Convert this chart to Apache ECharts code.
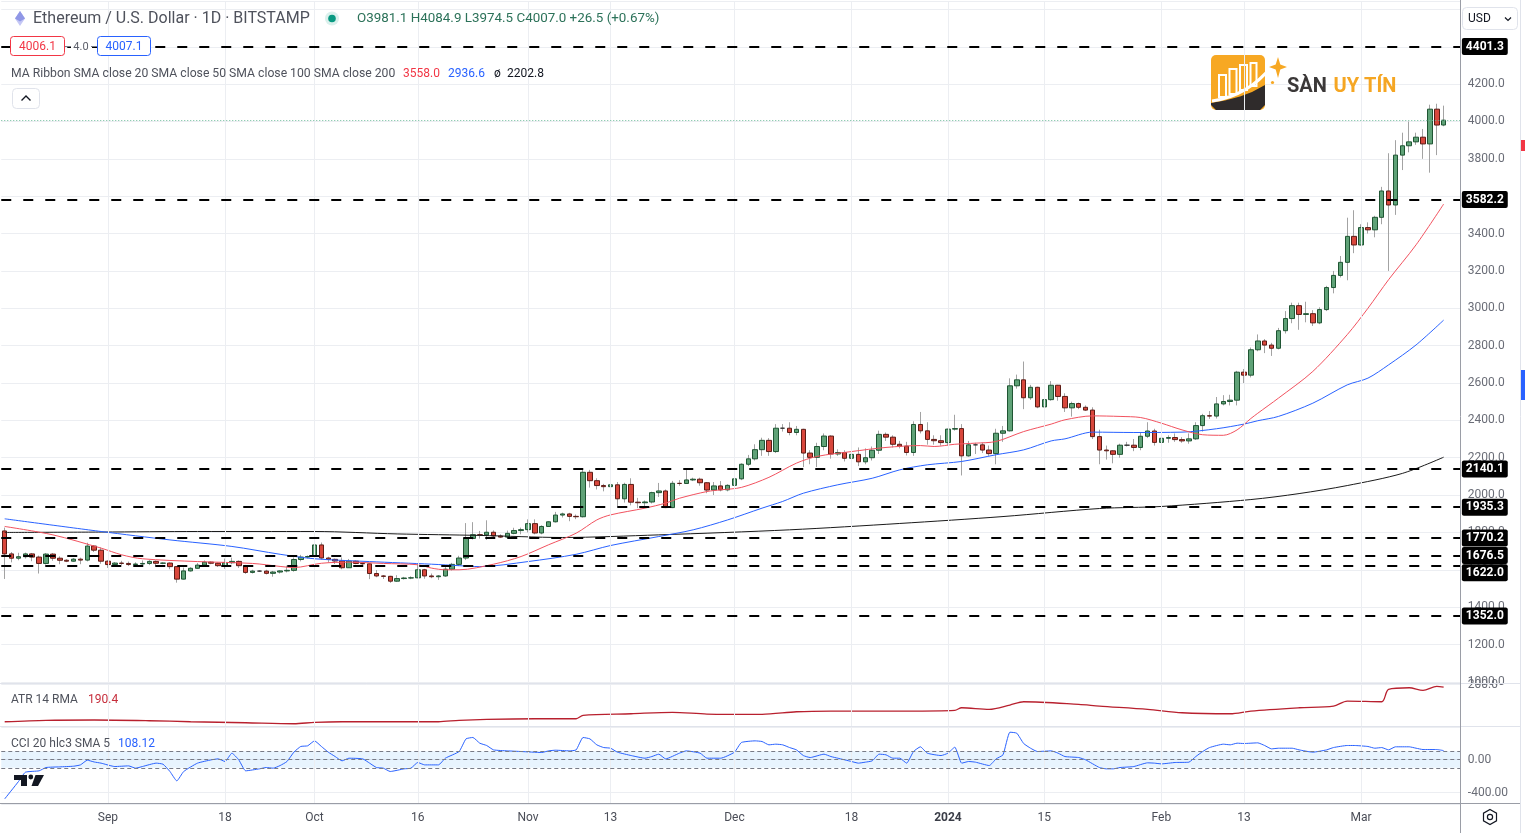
<!DOCTYPE html>
<html><head><meta charset="utf-8"><title>ETHUSD 1D</title>
<script src="https://cdn.jsdelivr.net/npm/echarts@6.0.0/dist/echarts.min.js"></script>
<style>html,body{margin:0;padding:0;background:#fff;overflow:hidden}#chart{width:1525px;height:833px}</style>
</head><body><div id="chart"></div>
<script>
// ---------------- DATA ----------------
// [date, open, close, low, high]
const candles = [
['2023-08-17',1808,1685,1551,1826],['2023-08-18',1685,1662,1640,1695],['2023-08-19',1662,1670,1651,1691],['2023-08-20',1670,1685,1660,1692],
['2023-08-21',1685,1668,1646,1690],['2023-08-22',1668,1634,1580,1676],['2023-08-23',1634,1684,1628,1690],['2023-08-24',1684,1662,1648,1690],
['2023-08-25',1662,1651,1630,1672],['2023-08-26',1651,1646,1641,1657],['2023-08-27',1646,1657,1643,1663],['2023-08-28',1657,1652,1630,1665],
['2023-08-29',1652,1727,1645,1745],['2023-08-30',1727,1705,1695,1732],['2023-08-31',1705,1646,1632,1720],
['2023-09-01',1646,1628,1610,1651],['2023-09-02',1628,1636,1625,1641],['2023-09-03',1636,1634,1625,1648],['2023-09-04',1634,1628,1620,1644],
['2023-09-05',1628,1631,1619,1640],['2023-09-06',1631,1634,1615,1650],['2023-09-07',1634,1645,1625,1652],['2023-09-08',1645,1635,1622,1650],
['2023-09-09',1635,1636,1630,1640],['2023-09-10',1636,1617,1603,1640],['2023-09-11',1617,1550,1531,1620],['2023-09-12',1550,1594,1548,1612],
['2023-09-13',1594,1608,1590,1614],['2023-09-14',1608,1625,1605,1636],['2023-09-15',1625,1641,1615,1650],['2023-09-16',1641,1635,1630,1645],
['2023-09-17',1635,1622,1615,1639],['2023-09-18',1622,1638,1605,1660],['2023-09-19',1638,1645,1630,1665],['2023-09-20',1645,1622,1610,1650],
['2023-09-21',1622,1586,1578,1626],['2023-09-22',1586,1593,1580,1600],['2023-09-23',1593,1593,1588,1598],['2023-09-24',1593,1581,1575,1600],
['2023-09-25',1581,1588,1563,1594],['2023-09-26',1588,1594,1580,1598],['2023-09-27',1594,1597,1586,1622],['2023-09-28',1597,1655,1590,1666],
['2023-09-29',1655,1668,1645,1680],['2023-09-30',1668,1671,1661,1677],
['2023-10-01',1671,1733,1668,1750],['2023-10-02',1733,1663,1655,1746],['2023-10-03',1663,1656,1639,1670],['2023-10-04',1656,1647,1631,1660],
['2023-10-05',1647,1611,1603,1666],['2023-10-06',1611,1646,1610,1658],['2023-10-07',1646,1634,1630,1650],['2023-10-08',1634,1632,1620,1641],
['2023-10-09',1632,1580,1550,1634],['2023-10-10',1580,1567,1560,1599],['2023-10-11',1567,1565,1551,1572],['2023-10-12',1565,1539,1530,1568],
['2023-10-13',1539,1553,1535,1571],['2023-10-14',1553,1556,1548,1562],['2023-10-15',1556,1557,1550,1565],['2023-10-16',1557,1600,1555,1630],
['2023-10-17',1600,1567,1552,1605],['2023-10-18',1567,1563,1555,1580],['2023-10-19',1563,1567,1546,1572],['2023-10-20',1567,1603,1562,1625],
['2023-10-21',1603,1629,1596,1637],['2023-10-22',1629,1663,1620,1675],['2023-10-23',1663,1768,1652,1850],['2023-10-24',1768,1788,1762,1855],
['2023-10-25',1788,1787,1767,1808],['2023-10-26',1787,1801,1760,1865],['2023-10-27',1801,1781,1765,1811],['2023-10-28',1781,1775,1770,1790],
['2023-10-29',1775,1795,1770,1810],['2023-10-30',1795,1810,1790,1825],['2023-10-31',1810,1815,1790,1826],
['2023-11-01',1815,1847,1800,1870],['2023-11-02',1847,1797,1790,1870],['2023-11-03',1797,1832,1790,1838],['2023-11-04',1832,1857,1830,1860],
['2023-11-05',1857,1893,1853,1910],['2023-11-06',1893,1899,1880,1906],['2023-11-07',1899,1886,1860,1905],['2023-11-08',1886,1884,1871,1896],
['2023-11-09',1884,2122,1880,2135],['2023-11-10',2122,2077,2040,2135],['2023-11-11',2077,2051,2030,2090],['2023-11-12',2051,2045,2020,2060],
['2023-11-13',2045,2055,2030,2105],['2023-11-14',2055,1980,1940,2070],['2023-11-15',1980,2057,1960,2066],['2023-11-16',2057,1962,1945,2090],
['2023-11-17',1962,1959,1930,1985],['2023-11-18',1959,1963,1940,1971],['2023-11-19',1963,2013,1955,2018],['2023-11-20',2013,2022,1990,2065],
['2023-11-21',2022,1933,1930,2030],['2023-11-22',1933,2063,1930,2076],['2023-11-23',2063,2062,2050,2080],['2023-11-24',2062,2081,2060,2134],
['2023-11-25',2081,2085,2075,2093],['2023-11-26',2085,2066,2050,2093],['2023-11-27',2066,2027,2010,2070],['2023-11-28',2027,2049,2000,2070],
['2023-11-29',2049,2028,2020,2075],['2023-11-30',2028,2052,2020,2058],
['2023-12-01',2052,2087,2045,2105],['2023-12-02',2087,2165,2080,2170],['2023-12-03',2165,2194,2155,2215],['2023-12-04',2194,2243,2185,2272],
['2023-12-05',2243,2293,2210,2307],['2023-12-06',2293,2233,2210,2305],['2023-12-07',2233,2358,2225,2380],['2023-12-08',2358,2358,2340,2380],
['2023-12-09',2358,2335,2320,2390],['2023-12-10',2335,2352,2320,2370],['2023-12-11',2352,2225,2150,2355],['2023-12-12',2225,2202,2165,2240],
['2023-12-13',2202,2260,2150,2280],['2023-12-14',2260,2316,2240,2330],['2023-12-15',2316,2220,2195,2320],['2023-12-16',2220,2228,2210,2245],
['2023-12-17',2228,2197,2180,2240],['2023-12-18',2197,2218,2130,2225],['2023-12-19',2218,2178,2155,2255],['2023-12-20',2178,2200,2165,2250],
['2023-12-21',2200,2240,2185,2260],['2023-12-22',2240,2325,2220,2345],['2023-12-23',2325,2310,2290,2335],['2023-12-24',2310,2272,2255,2320],
['2023-12-25',2272,2262,2250,2290],['2023-12-26',2262,2228,2212,2285],['2023-12-27',2228,2378,2210,2395],['2023-12-28',2378,2344,2330,2445],
['2023-12-29',2344,2298,2270,2390],['2023-12-30',2298,2291,2270,2320],['2023-12-31',2291,2281,2265,2320],
['2024-01-01',2281,2353,2265,2356],['2024-01-02',2353,2356,2345,2430],['2024-01-03',2356,2210,2105,2380],['2024-01-04',2210,2269,2205,2290],
['2024-01-05',2269,2269,2220,2280],['2024-01-06',2269,2241,2225,2280],['2024-01-07',2241,2222,2210,2265],['2024-01-08',2222,2331,2165,2355],
['2024-01-09',2331,2344,2285,2370],['2024-01-10',2344,2585,2340,2625],['2024-01-11',2585,2617,2570,2645],['2024-01-12',2617,2521,2460,2715],
['2024-01-13',2521,2577,2510,2590],['2024-01-14',2577,2472,2465,2580],['2024-01-15',2472,2511,2465,2550],['2024-01-16',2511,2588,2505,2610],
['2024-01-17',2588,2528,2505,2590],['2024-01-18',2528,2467,2445,2545],['2024-01-19',2467,2490,2420,2500],['2024-01-20',2490,2470,2460,2495],
['2024-01-21',2470,2455,2450,2480],['2024-01-22',2455,2313,2300,2470],['2024-01-23',2313,2241,2165,2350],['2024-01-24',2241,2237,2190,2265],
['2024-01-25',2237,2218,2170,2240],['2024-01-26',2218,2267,2200,2275],['2024-01-27',2267,2267,2260,2285],['2024-01-28',2267,2255,2235,2300],
['2024-01-29',2255,2315,2240,2335],['2024-01-30',2315,2343,2305,2390],['2024-01-31',2343,2282,2265,2355],
['2024-02-01',2282,2304,2240,2310],['2024-02-02',2304,2308,2280,2320],['2024-02-03',2308,2297,2285,2330],['2024-02-04',2297,2290,2280,2310],
['2024-02-05',2290,2301,2275,2330],['2024-02-06',2301,2372,2295,2390],['2024-02-07',2372,2425,2340,2435],['2024-02-08',2425,2423,2408,2450],
['2024-02-09',2423,2488,2410,2525],['2024-02-10',2488,2501,2480,2535],['2024-02-11',2501,2508,2480,2537],['2024-02-12',2508,2658,2480,2665],
['2024-02-13',2658,2642,2600,2675],['2024-02-14',2642,2778,2630,2790],['2024-02-15',2778,2825,2770,2860],['2024-02-16',2825,2803,2760,2835],
['2024-02-17',2803,2786,2745,2815],['2024-02-18',2786,2880,2780,2895],['2024-02-19',2880,2945,2865,2985],['2024-02-20',2945,3014,2920,3030],
['2024-02-21',3014,2967,2885,3030],['2024-02-22',2967,2971,2925,3035],['2024-02-23',2971,2922,2905,2990],['2024-02-24',2922,2993,2915,3005],
['2024-02-25',2993,3111,2985,3120],['2024-02-26',3111,3176,3080,3200],['2024-02-27',3176,3246,3165,3280],['2024-02-28',3246,3385,3150,3485],
['2024-02-29',3385,3339,3295,3525],
['2024-03-01',3339,3432,3335,3450],['2024-03-02',3432,3420,3400,3460],['2024-03-03',3420,3487,3380,3495],['2024-03-04',3487,3628,3450,3650],
['2024-03-05',3628,3553,3200,3830],['2024-03-06',3553,3820,3500,3900],['2024-03-07',3820,3870,3740,3940],['2024-03-08',3870,3891,3835,4000],
['2024-03-09',3891,3916,3875,3940],['2024-03-10',3916,3880,3800,3960],['2024-03-11',3880,4066,3726,4090],['2024-03-12',4066,3981,3820,4095],
['2024-03-13',3981.1,4007.0,3974.5,4084.9]
];
const futureDates = ['2024-03-14','2024-03-15'];

const sma20 = [['2023-08-17',1832],['2023-08-24',1787],['2023-08-31',1716],['2023-09-03',1680],['2023-09-06',1659],['2023-09-14',1644],['2023-09-22',1634],['2023-09-26',1618],['2023-09-28',1612],['2023-10-02',1635],['2023-10-06',1641],['2023-10-11',1634],['2023-10-16',1627],['2023-10-18',1609],['2023-10-20',1600],['2023-10-22',1600],['2023-10-27',1630],['2023-10-31',1671],['2023-11-04',1734],['2023-11-08',1796],['2023-11-11',1867],['2023-11-13',1894],['2023-11-18',1930],['2023-11-21',1957],['2023-11-23',1983],['2023-11-27',2019],['2023-11-29',2028],['2023-12-02',2041],['2023-12-06',2095],['2023-12-10',2171],['2023-12-13',2207],['2023-12-18',2233],['2023-12-23',2255],['2023-12-28',2265],['2023-12-30',2260],['2024-01-02',2272],['2024-01-05',2278],['2024-01-08',2287],['2024-01-12',2340],['2024-01-16',2380],['2024-01-18',2403],['2024-01-22',2424],['2024-01-26',2421],['2024-01-29',2415],['2024-02-01',2385],['2024-02-04',2349],['2024-02-07',2323],['2024-02-10',2320],['2024-02-12',2349],['2024-02-14',2410],['2024-02-15',2438],['2024-02-18',2519],['2024-02-23',2662],['2024-02-28',2859],['2024-03-02',3000],['2024-03-05',3153],['2024-03-09',3340],['2024-03-13',3558.0]];
const sma50 = [['2023-08-17',1873],['2023-08-31',1805],['2023-09-10',1760],['2023-09-19',1725],['2023-09-26',1683],['2023-10-01',1659],['2023-10-09',1644],['2023-10-18',1630],['2023-10-22',1622],['2023-10-25',1617],['2023-11-01',1644],['2023-11-08',1683],['2023-11-13',1730],['2023-11-20',1778],['2023-11-25',1814],['2023-11-30',1867],['2023-12-05',1930],['2023-12-08',1966],['2023-12-11',2010],['2023-12-16',2055],['2023-12-21',2090],['2023-12-25',2135],['2023-12-29',2162],['2024-01-03',2180],['2024-01-08',2216],['2024-01-12',2242],['2024-01-16',2290],['2024-01-18',2301],['2024-01-22',2337],['2024-01-28',2335],['2024-02-04',2337],['2024-02-09',2355],['2024-02-13',2380],['2024-02-15',2398],['2024-02-18',2421],['2024-02-23',2492],['2024-02-28',2590],['2024-03-02',2626],['2024-03-05',2697],['2024-03-09',2804],['2024-03-13',2936.6]];
const sma200 = [['2023-08-17',1800],['2023-08-31',1802],['2023-09-14',1805],['2023-10-01',1805],['2023-10-13',1792],['2023-10-25',1784],['2023-11-06',1773],['2023-11-20',1787],['2023-12-09',1814],['2023-12-25',1848],['2024-01-09',1885],['2024-01-23',1928],['2024-02-01',1939],['2024-02-14',1976],['2024-02-21',2008],['2024-02-28',2051],['2024-03-07',2116],['2024-03-13',2202.8]];
const atr14 = [['2023-08-17',48.2],['2023-08-23',54],['2023-08-30',55.2],['2023-09-07',52.3],['2023-09-13',48.2],['2023-09-21',44.1],['2023-09-28',40],['2023-10-01',45.7],['2023-10-05',48.2],['2023-10-12',48.2],['2023-10-19',48.2],['2023-10-22',54],['2023-10-26',58],['2023-11-02',60.5],['2023-11-08',60.5],['2023-11-09',74.4],['2023-11-16',81],['2023-11-22',86.7],['2023-11-27',79.7],['2023-12-05',78.5],['2023-12-10',89.2],['2023-12-15',92],['2023-12-26',92],['2024-01-02',94.9],['2024-01-03',105.5],['2024-01-07',98.9],['2024-01-10',116.6],['2024-01-12',130.2],['2024-01-20',119.5],['2024-01-23',112.5],['2024-01-30',99],['2024-02-04',85],['2024-02-11',80.9],['2024-02-14',92],['2024-02-21',105.5],['2024-02-26',112.5],['2024-02-28',133],['2024-03-04',130.2],['2024-03-05',181],['2024-03-08',187.5],['2024-03-10',176.9],['2024-03-12',193.3],['2024-03-13',190.4]];
const cci20 = [['2023-08-17',-477],['2023-08-19',-267],['2023-08-20',-154],['2023-08-22',-137],['2023-08-23',-97],['2023-08-25',-89],['2023-08-27',-81],['2023-08-28',-65],['2023-08-29',-8],['2023-08-30',-30],['2023-08-31',-44],['2023-09-02',-85],['2023-09-04',-77],['2023-09-05',-105],['2023-09-06',-85],['2023-09-08',-44],['2023-09-09',-57],['2023-09-10',-145],['2023-09-11',-259],['2023-09-12',-145],['2023-09-14',-44],['2023-09-16',-4],['2023-09-17',8],['2023-09-18',-24],['2023-09-19',77],['2023-09-20',-4],['2023-09-21',-137],['2023-09-23',-113],['2023-09-24',-97],['2023-09-25',-105],['2023-09-26',-73],['2023-09-27',-24],['2023-09-28',89],['2023-09-29',158],['2023-09-30',166],['2023-10-01',226],['2023-10-02',158],['2023-10-03',89],['2023-10-04',36],['2023-10-05',-16],['2023-10-06',16],['2023-10-08',8],['2023-10-09',-44],['2023-10-10',-97],['2023-10-11',-105],['2023-10-12',-145],['2023-10-14',-113],['2023-10-15',-105],['2023-10-16',-36],['2023-10-17',-65],['2023-10-19',-65],['2023-10-20',16],['2023-10-22',97],['2023-10-23',250],['2023-10-24',267],['2023-10-25',198],['2023-10-26',170],['2023-10-27',117],['2023-10-29',105],['2023-10-31',97],['2023-11-03',85],['2023-11-04',105],['2023-11-05',113],['2023-11-07',105],['2023-11-08',117],['2023-11-09',267],['2023-11-10',250],['2023-11-11',178],['2023-11-12',145],['2023-11-13',137],['2023-11-14',89],['2023-11-16',48],['2023-11-18',16],['2023-11-19',36],['2023-11-20',65],['2023-11-21',8],['2023-11-23',77],['2023-11-24',105],['2023-11-26',77],['2023-11-27',16],['2023-11-29',16],['2023-12-01',89],['2023-12-02',206],['2023-12-04',226],['2023-12-05',218],['2023-12-06',178],['2023-12-07',186],['2023-12-08',178],['2023-12-09',145],['2023-12-10',117],['2023-12-11',48],['2023-12-12',24],['2023-12-14',65],['2023-12-15',36],['2023-12-16',16],['2023-12-18',-24],['2023-12-19',-44],['2023-12-20',-32],['2023-12-21',-16],['2023-12-22',65],['2023-12-23',57],['2023-12-24',16],['2023-12-25',16],['2023-12-26',-44],['2023-12-27',97],['2023-12-28',154],['2023-12-29',77],['2023-12-31',48],['2024-01-01',77],['2024-01-02',150],['2024-01-03',-44],['2024-01-04',-24],['2024-01-05',-32],['2024-01-07',-73],['2024-01-08',8],['2024-01-09',57],['2024-01-10',331],['2024-01-11',319],['2024-01-12',194],['2024-01-13',137],['2024-01-14',97],['2024-01-16',105],['2024-01-17',77],['2024-01-18',36],['2024-01-20',24],['2024-01-21',-4],['2024-01-23',-97],['2024-01-24',-113],['2024-01-25',-113],['2024-01-26',-97],['2024-01-28',-85],['2024-01-30',-40],['2024-01-31',-44],['2024-02-01',-53],['2024-02-03',-36],['2024-02-05',-32],['2024-02-06',36],['2024-02-07',97],['2024-02-08',145],['2024-02-10',186],['2024-02-11',178],['2024-02-12',198],['2024-02-13',194],['2024-02-15',202],['2024-02-16',170],['2024-02-17',129],['2024-02-18',137],['2024-02-20',137],['2024-02-21',117],['2024-02-23',89],['2024-02-25',117],['2024-02-26',145],['2024-02-28',170],['2024-02-29',170],['2024-03-02',158],['2024-03-03',137],['2024-03-04',145],['2024-03-05',117],['2024-03-06',154],['2024-03-08',154],['2024-03-09',137],['2024-03-10',121],['2024-03-12',121],['2024-03-13',108.12]];

const levels = [4401.3, 3582.2, 2140.1, 1935.3, 1770.2, 1676.5, 1622.0, 1352.0];
const lastPrice = 4007.0;
const hiddenPriceTicks = [4600, 4400, 3600];
const xTicks = [['2023-09-01','Sep'],['2023-09-18','18'],['2023-10-01','Oct'],['2023-10-16','16'],['2023-11-01','Nov'],['2023-11-13','13'],['2023-12-01','Dec'],['2023-12-18','18'],['2024-01-01','2024'],['2024-01-15','15'],['2024-02-01','Feb'],['2024-02-13','13'],['2024-03-01','Mar']];
const headerTitle = 'Ethereum / U.S. Dollar \u00b7 1D \u00b7 BITSTAMP';
const headerOHLC = 'O3981.1 H4084.9 L3974.5 C4007.0 +26.5 (+0.67%)';
const bidAsk = ['4006.1', '4.0', '4007.1'];
const maLegend = ['MA Ribbon SMA close 20 SMA close 50 SMA close 100 SMA close 200', '3558.0', '2936.6', '\u00f8', '2202.8'];
const atrLegend = ['ATR 14 RMA', '190.4'];
const cciLegend = ['CCI 20 hlc3 SMA 5', '108.12'];

// ---------------- CHART ----------------
const FONT = 'Roboto, "Noto Sans", "DejaVu Sans", sans-serif';
const UP = '#5fa277', UPB = '#1f5533', DN = '#d8473c', DNB = '#5c1c16', WICK = '#a3a3a3';
const RED = '#f23645', BLUE = '#2962ff';
const cats = candles.map(r => r[0]).concat(futureDates);
const ohlc = candles.map(r => [r[1], r[2], r[3], r[4]]);
const bodies = candles.map(r => [r[1], r[2], Math.min(r[1], r[2]), Math.max(r[1], r[2])]);
const tickMap = Object.fromEntries(xTicks);
const vGridStyle = {color: '#eceef2', width: 1, type: 'solid'};
const vGrid = xTicks.map(t => ({xAxis: t[0], lineStyle: vGridStyle}));

const LEFT = 1.26, WIDTH = 1459.6;
const gridBase = {left: LEFT, width: WIDTH, containLabel: false, outerBoundsMode: 'none'};
function xAx(i, labels) {
  return {
    type: 'category', gridIndex: i, data: cats, boundaryGap: true,
    axisLine: {show: false}, axisTick: {show: false}, splitLine: {show: false},
    axisLabel: labels ? {
      show: true, margin: 7, color: '#4a4d57', fontSize: 12, fontFamily: FONT,
      interval: (idx, v) => tickMap[v] !== undefined,
      formatter: v => tickMap[v] === '2024' ? '{y|2024}' : (tickMap[v] || ''),
      rich: {y: {fontWeight: 'bold', fontSize: 12, color: '#3a3d47', fontFamily: FONT}}
    } : {show: false}
  };
}
const yLabel = {color: '#6a6d77', fontSize: 12, fontFamily: FONT, margin: 7};

function T(x, y, text, font, fill, align) {
  const a = align || 'left';
  return {type: 'text', x: x, y: y, z: 100, silent: true,
    style: {text: text, font: font, fill: fill, textAlign: a, align: a, textVerticalAlign: 'middle', verticalAlign: 'middle'}};
}
function L(x1, y1, x2, y2, c, z) {
  return {type: 'line', z: z || 50, silent: true, shape: {x1: x1, y1: y1, x2: x2, y2: y2}, style: {stroke: c, lineWidth: 1}};
}

const f12 = '12px ' + FONT;
const graphics = [
  // separators
  L(0, 683.5, 1520, 683.5, '#e0e3eb'), L(0, 726.5, 1520, 726.5, '#e0e3eb'), L(0, 803.5, 1520, 803.5, '#9a9da6'),
  L(1460.5, 0, 1460.5, 833, '#9a9da6'), L(1520.5, 0, 1520.5, 833, '#e0e3eb'),
  // edge marks
  {type: 'rect', z: 60, shape: {x: 1521, y: 140, width: 4, height: 11}, style: {fill: RED}},
  {type: 'rect', z: 60, shape: {x: 1521, y: 370, width: 4, height: 30}, style: {fill: BLUE}},
  // USD box
  {type: 'rect', z: 100, shape: {x: 1462.5, y: 7.5, width: 55, height: 22, r: 4}, style: {fill: '#fff', stroke: '#e0e3eb', lineWidth: 1}},
  T(1468, 19, 'USD', f12, '#131722'),
  {type: 'polyline', z: 101, shape: {points: [[1505, 17.5], [1508, 20.5], [1511, 17.5]]}, style: {stroke: '#131722', lineWidth: 1.2, fill: 'none'}},
  // gear icon
  {type: 'polygon', z: 100, shape: {points: [[1490, 809.5], [1496.5, 813.2], [1496.5, 820.8], [1490, 824.5], [1483.5, 820.8], [1483.5, 813.2]]}, style: {fill: 'none', stroke: '#131722', lineWidth: 1.2}},
  {type: 'circle', z: 100, shape: {cx: 1490, cy: 817, r: 2.6}, style: {fill: 'none', stroke: '#131722', lineWidth: 1.2}},
  // header row 1
  {type: 'polygon', z: 100, shape: {points: [[20, 11], [25, 18.5], [20, 26], [15, 18.5]]}, style: {fill: '#c4c7f5'}},
  {type: 'polygon', z: 101, shape: {points: [[20, 11], [25, 18.5], [20, 21.5], [15, 18.5]]}, style: {fill: '#9097e6'}},
  T(33, 19, headerTitle, '16px ' + FONT, '#4f525c'),
  {type: 'circle', z: 100, shape: {cx: 332, cy: 18.5, r: 7}, style: {fill: 'rgba(8,153,129,0.15)'}},
  {type: 'circle', z: 101, shape: {cx: 332, cy: 18.5, r: 3.8}, style: {fill: '#089981'}},
  T(357, 19, headerOHLC, '13.4px ' + FONT, '#2c7259'),
  // header row 2 (bid/ask)
  {type: 'rect', z: 100, shape: {x: 10.5, y: 36.5, width: 54, height: 19, r: 3}, style: {fill: '#fff', stroke: RED, lineWidth: 1}},
  T(37.5, 47, bidAsk[0], f12, RED, 'center'),
  {type: 'rect', z: 100, shape: {x: 71, y: 39, width: 21, height: 14}, style: {fill: '#fff'}},
  L(65, 46.5, 71, 46.5, '#787b86', 101), L(91, 46.5, 97, 46.5, '#787b86', 101),
  T(81, 47, bidAsk[1], '11px ' + FONT, '#5d606b', 'center'),
  {type: 'rect', z: 100, shape: {x: 97.5, y: 36.5, width: 53, height: 19, r: 3}, style: {fill: '#fff', stroke: BLUE, lineWidth: 1}},
  T(124, 47, bidAsk[2], f12, BLUE, 'center'),
  // header row 3 (MA ribbon legend)
  T(11, 74, maLegend[0], '12.2px ' + FONT, '#4f525c'),
  T(403, 74, maLegend[1], f12, RED), T(448, 74, maLegend[2], f12, BLUE),
  T(494, 74, maLegend[3], f12, '#131722'), T(507, 74, maLegend[4], f12, '#131722'),
  // collapse button
  {type: 'rect', z: 100, shape: {x: 12.5, y: 88.5, width: 27, height: 20, r: 4}, style: {fill: '#fff', stroke: '#e0e3eb', lineWidth: 1}},
  {type: 'polyline', z: 101, shape: {points: [[21.5, 100.5], [26, 96], [30.5, 100.5]]}, style: {stroke: '#131722', lineWidth: 1.4, fill: 'none'}},
  // pane legends
  T(11, 700, atrLegend[0], f12, '#4f525c'), T(88, 700, atrLegend[1], f12, '#c62d3b'),
  T(11, 744, cciLegend[0], f12, '#4f525c'), T(118, 744, cciLegend[1], f12, BLUE),
  // TradingView logo
  {type: 'polygon', z: 100, shape: {points: [[14, 775], [27, 775], [27, 786], [21, 786], [21, 780], [14, 780]]}, style: {fill: '#131722'}},
  {type: 'circle', z: 100, shape: {cx: 30.8, cy: 777, r: 2.4}, style: {fill: '#131722'}},
  {type: 'polygon', z: 100, shape: {points: [[35.5, 775], [44, 775], [38, 786], [31.5, 786]]}, style: {fill: '#131722'}},
  // watermark logo
  {type: 'rect', z: 1, shape: {x: 1211, y: 55, width: 54, height: 55, r: 5}, style: {fill: '#f7a823'}},
  {type: 'polygon', z: 2, shape: {points: [[1211, 103], [1225, 100.5], [1240, 96.5], [1252, 92], [1265, 85], [1265, 105], [1260, 110], [1216, 110], [1211, 105]]}, style: {fill: '#2f2b2b'}},
  {type: 'rect', z: 3, shape: {x: 1219, y: 75, width: 7, height: 22}, style: {fill: '#f7a823', stroke: '#fff', lineWidth: 2}},
  {type: 'rect', z: 3, shape: {x: 1229.5, y: 69, width: 7, height: 25}, style: {fill: '#f7a823', stroke: '#fff', lineWidth: 2}},
  {type: 'rect', z: 3, shape: {x: 1240, y: 65, width: 7, height: 25}, style: {fill: '#f7a823', stroke: '#fff', lineWidth: 2}},
  {type: 'rect', z: 3, shape: {x: 1250.5, y: 63, width: 6, height: 23}, style: {fill: '#f7a823', stroke: '#fff', lineWidth: 2}},
  {type: 'bezierCurve', z: 4, shape: {x1: 1212, y1: 101, x2: 1272, y2: 66, cpx1: 1248, cpy1: 96}, style: {stroke: '#fff', lineWidth: 3, fill: 'none'}},
  {type: 'polygon', z: 4, shape: {points: [[1278, 57], [1280.3, 64.5], [1287, 67], [1280.3, 69.5], [1278, 78], [1275.7, 69.5], [1269, 67], [1275.7, 64.5]]}, style: {fill: '#f7a823'}},
  {type: 'circle', z: 4, shape: {cx: 1272.5, cy: 82.5, r: 1.6}, style: {fill: '#f7a823'}},
  {type: 'text', z: 4, x: 1287, y: 86.5, silent: true, style: {text: '{a|S\u00c0N}  {b|UY T\u00cdN}', textVerticalAlign: 'middle', verticalAlign: 'middle',
    rich: {a: {font: 'bold 20px ' + FONT, fill: '#3b3838', color: '#3b3838'}, b: {font: 'bold 20px ' + FONT, fill: '#f5a623', color: '#f5a623'}}}}
];

const levelItems = levels.map(v => v === 1622.0 ? {yAxis: v, label: {offset: [0, 7]}} : {yAxis: v});

const option = {
  animation: false,
  backgroundColor: '#ffffff',
  textStyle: {fontFamily: FONT},
  grid: [
    Object.assign({top: 1.5, height: 683}, gridBase),
    Object.assign({top: 684, height: 43}, gridBase),
    Object.assign({top: 727.5, height: 77}, gridBase)
  ],
  xAxis: [xAx(0, false), xAx(1, false), xAx(2, true)],
  yAxis: [
    {type: 'value', gridIndex: 0, position: 'right', min: 985.9, max: 4642.4, minInterval: 200, maxInterval: 200,
      axisLine: {show: false}, axisTick: {show: false},
      axisLabel: Object.assign({formatter: v => (Math.abs(v % 200) < 1e-6 && hiddenPriceTicks.indexOf(v) < 0) ? v.toFixed(1) : ''}, yLabel),
      splitLine: {show: true, lineStyle: {color: '#eceef2', width: 1}}},
    {type: 'value', gridIndex: 1, position: 'right', min: 26.6, max: 202.9, splitNumber: 4,
      axisLine: {show: false}, axisTick: {show: false},
      axisLabel: Object.assign({formatter: v => v === 200 ? '200.0' : ''}, yLabel),
      splitLine: {show: false}},
    {type: 'value', gridIndex: 2, position: 'right', min: -545, max: 388, minInterval: 400, maxInterval: 400,
      axisLine: {show: false}, axisTick: {show: false},
      axisLabel: Object.assign({formatter: v => Math.abs(v % 400) < 1e-6 ? v.toFixed(2) : ''}, yLabel),
      splitLine: {show: true, lineStyle: {color: '#eceef2', width: 1}}}
  ],
  series: [
    {name: 'wicks', type: 'candlestick', xAxisIndex: 0, yAxisIndex: 0, data: ohlc, barWidth: 1, z: 2,
      itemStyle: {color: WICK, color0: WICK, borderColor: WICK, borderColor0: WICK, borderColorDoji: WICK, borderWidth: 1},
      markLine: {silent: true, symbol: ['none', 'none'], animation: false, label: {show: false}, lineStyle: vGridStyle, data: vGrid}},
    {name: 'ETHUSD', type: 'candlestick', xAxisIndex: 0, yAxisIndex: 0, data: bodies, barWidth: 5, z: 2,
      itemStyle: {color: UP, color0: DN, borderColor: UPB, borderColor0: DNB, borderColorDoji: '#333', borderWidth: 1},
      markLine: {silent: true, symbol: ['none', 'none'], animation: false,
        lineStyle: {color: '#000', type: [10, 12], width: 2},
        label: {show: true, position: 'end', distance: 1, formatter: p => Number(p.value).toFixed(1),
          backgroundColor: '#000', color: '#fff', fontWeight: 'bold', fontSize: 12, fontFamily: FONT, padding: [3, 4, 2, 4], borderRadius: 2},
        data: levelItems.concat([{yAxis: lastPrice, lineStyle: {color: '#6dbb98', type: [1, 2], width: 1}, label: {show: false}}])}},
    {name: 'SMA 200', type: 'line', xAxisIndex: 0, yAxisIndex: 0, data: sma200, showSymbol: false, smooth: 0.3, z: 3,
      lineStyle: {color: '#1a1a1a', width: 1}},
    {name: 'SMA 50', type: 'line', xAxisIndex: 0, yAxisIndex: 0, data: sma50, showSymbol: false, smooth: 0.3, z: 3,
      lineStyle: {color: BLUE, width: 1}},
    {name: 'SMA 20', type: 'line', xAxisIndex: 0, yAxisIndex: 0, data: sma20, showSymbol: false, smooth: 0.3, z: 3,
      lineStyle: {color: '#f2525f', width: 1}},
    {name: 'ATR', type: 'line', xAxisIndex: 1, yAxisIndex: 1, data: atr14, showSymbol: false, smooth: 0.3, z: 3,
      lineStyle: {color: '#b8202e', width: 1.3},
      markLine: {silent: true, symbol: ['none', 'none'], animation: false, label: {show: false}, lineStyle: vGridStyle, data: vGrid}},
    {name: 'CCI', type: 'line', xAxisIndex: 2, yAxisIndex: 2, data: cci20, showSymbol: false, smooth: 0.15, z: 3,
      lineStyle: {color: BLUE, width: 1},
      markArea: {silent: true, itemStyle: {color: 'rgba(33,150,243,0.1)'}, data: [[{yAxis: 100}, {yAxis: -100}]]},
      markLine: {silent: true, symbol: ['none', 'none'], animation: false, label: {show: false}, lineStyle: vGridStyle,
        data: vGrid.concat([100, 0, -100].map(v => ({yAxis: v, lineStyle: {color: '#787b86', type: [4, 3], width: 1}})))}}
  ],
  graphic: {elements: graphics}
};

const chart = echarts.init(document.getElementById('chart'), null, {renderer: 'canvas', width: 1525, height: 833});
chart.setOption(option);
</script>
</body></html>
